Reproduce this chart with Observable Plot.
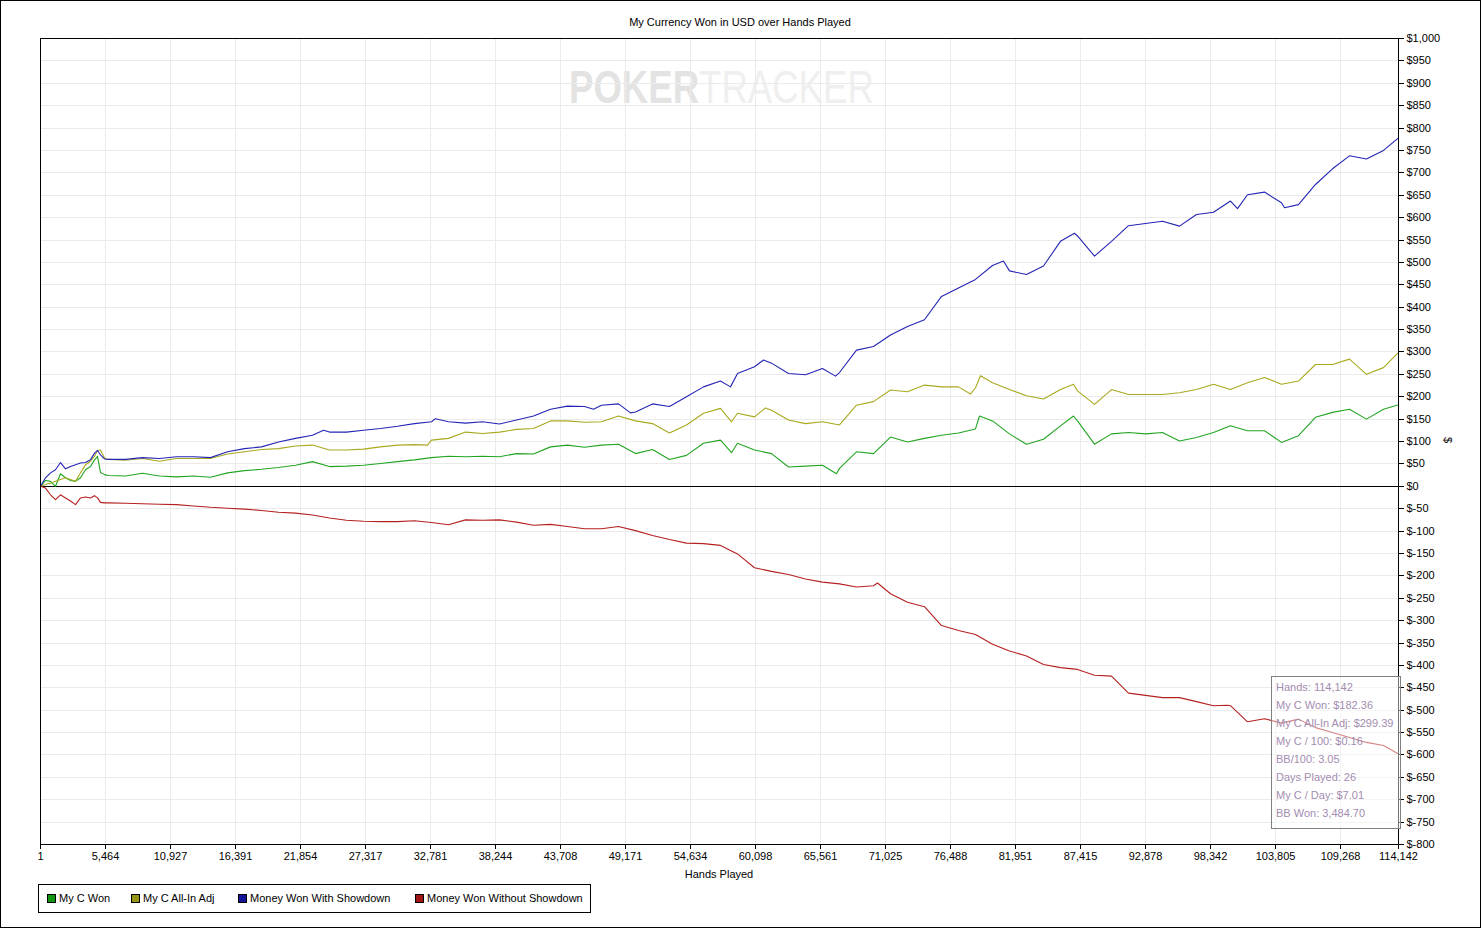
<!DOCTYPE html>
<html>
<head>
<meta charset="utf-8">
<script src="https://cdn.jsdelivr.net/npm/d3@7"></script>
<script src="https://cdn.jsdelivr.net/npm/@observablehq/plot@0.6"></script>
<style>
  html, body { margin: 0; padding: 0; background: #fff; }
  #page { position: relative; width: 1484px; height: 930px; overflow: hidden; font-family: "Liberation Sans", Arial, sans-serif; font-size: 11px; color: #000; }
  #outer { position: absolute; left: 0; top: 0; width: 1479px; height: 926px; border: 1px solid #000; }
  #title { position: absolute; left: 0; width: 1480px; top: 16px; text-align: center; font-size: 11px; }
  #watermark { position: absolute; left: 569px; top: 62px; white-space: nowrap; font-size: 46px; line-height: 50px; transform-origin: 0 0; transform: scaleX(0.795); }
  #watermark .a { color: #e3e3e3; font-weight: bold; }
  #watermark .b { color: #efefef; font-weight: normal; }
  #chart { position: absolute; left: 0; top: 0; }
  #xlabel { position: absolute; left: 619px; width: 200px; top: 868px; text-align: center; }
  #ylabel { position: absolute; left: 1445px; top: 434px; transform: rotate(90deg); }
  #legend { position: absolute; left: 38px; top: 884px; width: 551px; height: 27px; border: 1px solid #000; }
  #legend .item { position: absolute; top: 7px; white-space: nowrap; }
  #legend .sw { display: inline-block; width: 7px; height: 7px; border: 1px solid #000; vertical-align: -1px; margin-right: 3px; }
  #info { position: absolute; left: 1271px; top: 676px; width: 128px; height: 151px; border: 1px solid #808080; color: #a38cb0; background: rgba(255,255,255,0.45); }
  #info div { position: absolute; left: 4px; white-space: nowrap; }
</style>
</head>
<body>
<div id="page">
  <div id="outer"></div>
  <div id="title">My Currency Won in USD over Hands Played</div>
  <div id="watermark"><span class="a">POKER</span><span class="b">TRACKER</span></div>
  <div id="chart"></div>
  <div id="xlabel">Hands Played</div>
  <div id="ylabel">$</div>
  <div id="legend"></div>
  <div id="info"></div>
</div>
<script>
// ---- data (sampled along the hands axis) ----
const hands = [1, 421, 842, 1262, 1682, 2102, 2523, 2943, 3363, 3783, 4204, 4540, 4792, 5044, 5380, 5716,
  7145, 8574, 10003, 11432, 12861, 14290, 15718, 17147, 18576, 20005, 21434, 22863, 24291, 25720, 27149, 28578, 30007, 31436, 32865, 34293, 35722, 37151, 38580,
  40009, 41438, 42867, 44295, 45724, 47153, 48582, 50011, 51440, 52868, 54297, 55726, 57155, 58584, 60013, 61442, 62870, 64299, 65728, 67157, 68586, 70015, 71444, 72872, 74301, 75730, 77159,
  78588, 80017, 81445, 82874, 84303, 85732, 87161, 88590, 90019, 91447, 92876, 94305, 95734, 97163, 98592, 100020, 101449, 102878, 104307, 105736, 107165, 108594, 110022, 111451, 112880, 114142];

const myCWon = [0, 13, 11, 0, 28, 19, 13, 11, 19, 37, 44, 59, 67, 31, 26, 24,
  23, 29, 23, 21, 23, 20, 30, 35, 38, 42, 47, 55, 44, 45, 47, 51, 55, 59, 64, 67, 66, 67, 66,
  73, 72, 88, 92, 87, 92, 94, 73, 82, 60, 69, 96, 103, 96, 81, 73, 43, 45, 47, 40, 77, 73, 110, 99, 107, 114, 119,
  128, 146, 117, 94, 105, 135, 146, 94, 117, 120, 117, 120, 101, 109, 120, 135, 124, 124, 98, 113, 154, 165, 172, 150, 172, 182];

const myCAllInAdj = [0, 4, 7, 11, 15, 19, 15, 11, 30, 48, 56, 67, 80, 81, 63, 60,
  58, 62, 56, 62, 62, 62, 72, 77, 82, 84, 90, 92, 81, 81, 83, 88, 92, 93, 103, 107, 121, 118, 121,
  127, 129, 146, 146, 143, 144, 157, 146, 140, 119, 137, 163, 174, 163, 155, 170, 148, 140, 144, 137, 181, 189, 215, 211, 226, 222, 222,
  220, 231, 216, 202, 195, 216, 213, 183, 216, 205, 205, 205, 209, 216, 228, 216, 231, 243, 228, 235, 272, 272, 284, 250, 265, 299];

const wonWithShowdown = [0, 19, 30, 37, 53, 39, 44, 48, 52, 53, 59, 74, 80, 70, 61, 60,
  60, 64, 62, 66, 66, 64, 77, 84, 88, 99, 107, 114, 121, 121, 125, 129, 134, 140, 144, 144, 141, 144, 139,
  148, 157, 172, 179, 178, 181, 184, 166, 184, 178, 200, 222, 235, 252, 267, 275, 252, 249, 263, 254, 304, 312, 338, 357, 372, 424, 443,
  462, 493, 481, 473, 492, 547, 559, 514, 547, 582, 587, 592, 581, 607, 612, 637, 651, 657, 633, 629, 674, 709, 738, 731, 750, 778];

const wonWithoutShowdown = [0, -4, -19, -30, -19, -26, -33, -41, -26, -24, -26, -21, -26, -36, -37, -37,
  -38, -39, -40, -41, -44, -47, -49, -51, -54, -58, -60, -64, -71, -76, -78, -79, -79, -77, -81, -86, -75, -76, -75,
  -80, -87, -85, -90, -95, -95, -90, -99, -110, -119, -127, -128, -132, -151, -182, -190, -197, -207, -214, -218, -225, -222, -240, -259, -269, -311, -322,
  -331, -353, -368, -379, -398, -405, -409, -422, -424, -462, -467, -472, -472, -481, -490, -490, -526, -519, -529, -520, -539, -550, -561, -572, -579, -598];

// ---- extra peaks and dips read between the samples ----
const myCWonPeakHands = [58080, 66905, 78924, 86826];
const myCWonPeakValues = [75, 28, 157, 157];
const myCAllInAdjPeakHands = [32529, 58080, 60937, 78168, 79008, 86826];
const myCAllInAdjPeakValues = [92, 144, 175, 206, 247, 228];
const wonWithShowdownPeakHands = [23787, 33201, 46481, 49591, 57996, 60770, 66821, 80941, 86909, 100609, 104559];
const wonWithShowdownPeakValues = [125, 151, 172, 164, 222, 282, 246, 503, 565, 620, 622];
const wonWithoutShowdownPeakHands = [70351, 99770];
const wonWithoutShowdownPeakValues = [-216, -489];

const seriesNames = ["My C Won", "My C All-In Adj", "Money Won With Showdown", "Money Won Without Showdown"];
const seriesColors = ["#23a523", "#a9a91f", "#2525b5", "#b52020"];
const swatchColors = ["#149614", "#969614", "#14149a", "#a01414"];

const xTicks = [1, 5464, 10927, 16391, 21854, 27317, 32781, 38244, 43708, 49171, 54634, 60098, 65561, 71025, 76488, 81951, 87415, 92878, 98342, 103805, 109268, 114142];
const yTicks = [1000, 950, 900, 850, 800, 750, 700, 650, 600, 550, 500, 450, 400, 350, 300, 250, 200, 150, 100, 50, 0,
  -50, -100, -150, -200, -250, -300, -350, -400, -450, -500, -550, -600, -650, -700, -750, -800];

const infoLines = ["Hands: 114,142", "My C Won: $182.36", "My C All-In Adj: $299.39", "My C / 100: $0.16", "BB/100: 3.05", "Days Played: 26", "My C / Day: $7.01", "BB Won: 3,484.70"];

// ---- build ----
const seriesValues = [myCWon, myCAllInAdj, wonWithShowdown, wonWithoutShowdown];
const peakHands = [myCWonPeakHands, myCAllInAdjPeakHands, wonWithShowdownPeakHands, wonWithoutShowdownPeakHands];
const peakValues = [myCWonPeakValues, myCAllInAdjPeakValues, wonWithShowdownPeakValues, wonWithoutShowdownPeakValues];
const rows = seriesNames.flatMap((name, s) => {
  const pts = hands.map((h, i) => ({series: name, hand: h, value: seriesValues[s][i]}))
    .concat(peakHands[s].map((h, i) => ({series: name, hand: h, value: peakValues[s][i]})));
  return pts.sort((a, b) => a.hand - b.hand);
});

const money = v => "$" + (v < 0 ? "-" : "") + d3.format(",")(Math.abs(v));

const chart = Plot.plot({
  width: 1484,
  height: 885,
  marginTop: 38,
  marginLeft: 40,
  marginRight: 86,
  marginBottom: 41,
  style: {background: "transparent", fontFamily: "Liberation Sans, Arial, sans-serif", fontSize: "11px", color: "#000"},
  x: {type: "linear", domain: [1, 114142]},
  y: {domain: [-800, 1000]},
  color: {domain: seriesNames, range: seriesColors},
  marks: [
    Plot.gridX(xTicks, {stroke: "#ebebeb", strokeOpacity: 1, shapeRendering: "crispEdges"}),
    Plot.gridY(yTicks, {stroke: "#ebebeb", strokeOpacity: 1, shapeRendering: "crispEdges"}),
    Plot.ruleY([0], {stroke: "#000", shapeRendering: "crispEdges"}),
    Plot.line(rows, {x: "hand", y: "value", z: "series", stroke: "series", strokeWidth: 1.1}),
    Plot.frame({stroke: "#000", shapeRendering: "crispEdges"}),
    Plot.axisY(yTicks, {anchor: "right", tickFormat: money, tickSize: 5, tickPadding: 3, label: null, shapeRendering: "crispEdges"}),
    Plot.axisX(xTicks, {anchor: "bottom", tickFormat: d3.format(","), tickSize: 5, tickPadding: 3, label: null, shapeRendering: "crispEdges"})
  ]
});
document.getElementById("chart").appendChild(chart);

// legend
const legendX = [8, 92, 199, 376];
const legend = document.getElementById("legend");
seriesNames.forEach((name, i) => {
  const it = document.createElement("div");
  it.className = "item";
  it.style.left = legendX[i] + "px";
  it.innerHTML = `<span class="sw" style="background:${swatchColors[i]}"></span>${name}`;
  legend.appendChild(it);
});

// info box
const info = document.getElementById("info");
infoLines.forEach((t, i) => {
  const d = document.createElement("div");
  d.style.top = (4 + i * 18) + "px";
  d.textContent = t;
  info.appendChild(d);
});
</script>
</body>
</html>
